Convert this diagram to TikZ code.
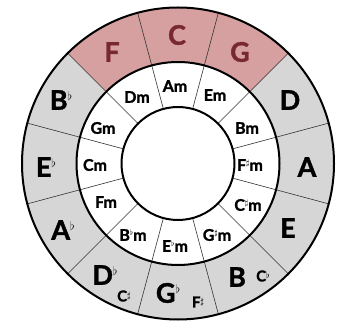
\documentclass[tikz,border=0pt]{standalone}
\usepackage{fontspec}
\setmainfont{Lato}[BoldFeatures={FakeBold=1.5}]
\definecolor{ringgray}{RGB}{214,214,214}
\definecolor{ringpink}{RGB}{214,160,160}
\definecolor{keyred}{RGB}{120,40,48}
\newcommand{\bigfl}{\raisebox{9pt}{\fontsize{13}{13}\selectfont$\flat$}}
\newcommand{\smfl}{\raisebox{5pt}{\fontsize{8}{8}\selectfont$\flat$}}
\newcommand{\smsh}{\raisebox{5pt}{\fontsize{8}{8}\selectfont$\sharp$}}
\newcommand{\tnsh}{\raisebox{3pt}{\fontsize{9}{9}\selectfont$\sharp$}}
\newcommand{\tnfl}{\raisebox{3pt}{\fontsize{9}{9}\selectfont$\flat$}}
\begin{document}
\begin{tikzpicture}[x=1pt,y=1pt,
  major/.style={font=\fontsize{27}{27}\selectfont\bfseries, inner sep=0pt},
  minor/.style={font=\fontsize{16}{16}\selectfont\bfseries, inner sep=0pt},
  alt/.style={font=\fontsize{15}{15}\selectfont\bfseries, inner sep=0pt},
  divider/.style={draw=black!80, line width=0.6pt},
  ring/.style={draw=black, line width=2pt}]
\useasboundingbox (0,0) rectangle (340,324);
\def\Ro{156}\def\Rm{101.5}\def\Ri{56.5}
\begin{scope}[shift={(178,160.5)}]
\fill[ringgray] (0,0) circle (\Ro);
\fill[ringpink] (45:\Rm) arc (45:135:\Rm) -- (135:\Ro) arc (135:45:\Ro) -- cycle;
\fill[white] (0,0) circle (\Rm);
\foreach \a in {15,45,...,345} {
  \draw[divider] (\a:\Rm) -- (\a:\Ro);
  \draw[divider] (\a:\Ri) -- (\a:\Rm);
}
\draw[ring] (0,0) circle (\Ro);
\draw[ring] (0,0) circle (\Rm);
\draw[ring] (0,0) circle (\Ri);
% major keys
\node[major, text=keyred] (kC) at (-1,128.5) {C};
\node[major, text=keyred] (kG) at (62,111.5) {G};
\node[major, text=keyred] (kF) at (-66,111.5) {F};
\node[major] (kD) at (112,63.5) {D};
\node[major] (kA) at (129,-3.5) {A};
\node[major] (kE) at (110,-64.5) {E};
\node[major] (kBb) at (-117,63.5) {B\bigfl};
\node[major] (kEb) at (-132,-3.5) {E\bigfl};
\node[major] (kAb) at (-115,-66.5) {A\bigfl};
\node[major] (kDb) at (-73,-111.5) {D\bigfl};
\node[alt] (kCs) at (-54,-132.5) {C\tnsh};
\node[major] (kGb) at (-10,-129.5) {G\bigfl};
\node[alt] (kFs) at (20,-138.5) {F\tnsh};
\node[major] (kB) at (59,-113.5) {B};
\node[alt] (kCb) at (85,-112.5) {C\tnfl};
% minor keys
\node[minor] (mA) at (-3,77.5) {Am};
\node[minor] (mE) at (37,68.5) {Em};
\node[minor] (mD) at (-41,66.5) {Dm};
\node[minor] (mG) at (-75,35.5) {Gm};
\node[minor] (mB) at (69,35.5) {Bm};
\node[minor] (mC) at (-83,-1.5) {Cm};
\node[minor] (mFs) at (72,-1.5) {F\smsh m};
\node[minor] (mF) at (-72,-38.5) {Fm};
\node[minor] (mCs) at (70,-41.5) {C\smsh m};
\node[minor] (mBb) at (-45,-71.5) {B\smfl m};
\node[minor] (mEb) at (-3,-82.5) {E\smfl m};
\node[minor] (mGs) at (39,-71.5) {G\smsh m};
\end{scope}
\end{tikzpicture}
\end{document}
